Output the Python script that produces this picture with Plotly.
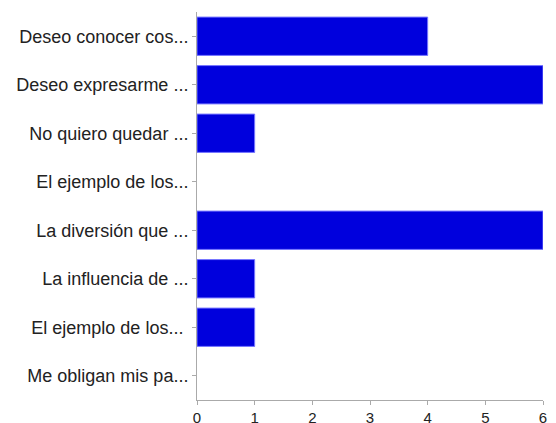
import plotly.graph_objects as go

categories = [
    "Deseo conocer cos...",
    "Deseo expresarme ...",
    "No quiero quedar ...",
    "El ejemplo de los...",
    "La diversión que ...",
    "La influencia de ...",
    "El ejemplo de los... ",
    "Me obligan mis pa...",
]
values = [4, 6, 1, 0, 6, 1, 1, 0]
x_ticks = [0, 1, 2, 3, 4, 5, 6]

fig = go.Figure(go.Bar(
    y=categories,
    x=values,
    orientation="h",
    marker=dict(color="#0000dd",
                line=dict(color="#7777ff", width=[1 if v > 0 else 0 for v in values])),
))

fig.update_layout(
    width=540, height=415,
    margin=dict(l=189, r=5, t=4, b=23),
    plot_bgcolor="white", paper_bgcolor="white",
    bargap=0.21,
    showlegend=False,
    font=dict(family="Liberation Sans, Arial, sans-serif", size=18, color="#222222"),
)
fig.update_yaxes(
    autorange="reversed", automargin=False,
    showgrid=False, zeroline=False,
    showline=True, linecolor="#aaaaaa", linewidth=1,
    ticks="outside", ticklen=4, tickcolor="#aaaaaa",
    ticklabelstandoff=0,
)
fig.update_xaxes(
    range=[0, 6], tickvals=x_ticks, automargin=False,
    ticklabeloverflow="allow",
    tickfont=dict(size=15),
    showgrid=False, zeroline=False,
    showline=True, linecolor="#aaaaaa", linewidth=1,
    ticks="outside", ticklen=4, tickcolor="#aaaaaa",
    ticklabelstandoff=0,
)

fig.write_html("out.html")
